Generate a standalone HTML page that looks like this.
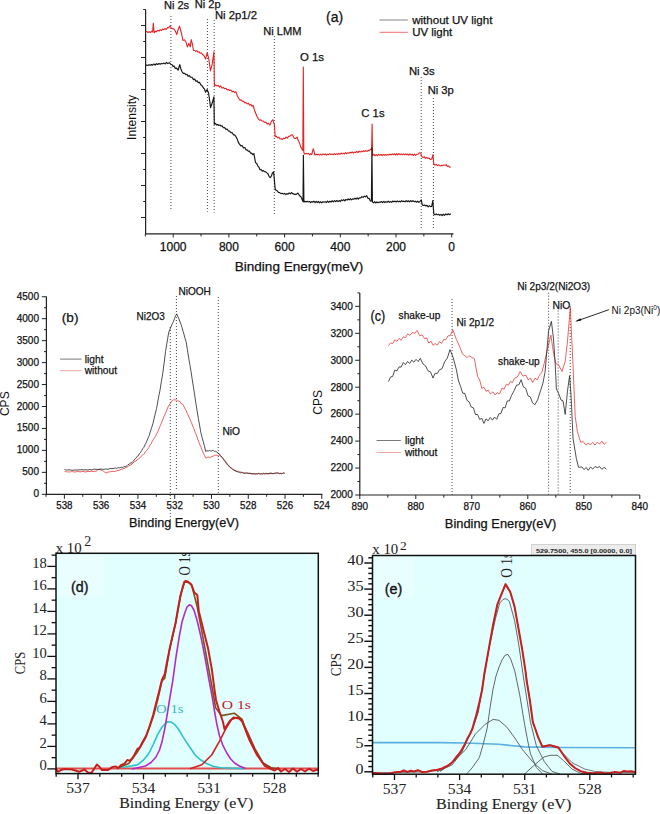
<!DOCTYPE html>
<html><head><meta charset="utf-8"><style>
html,body{margin:0;padding:0;background:#fff;}
body{width:660px;height:814px;overflow:hidden;}
svg{display:block;}
</style></head><body>
<svg width="660" height="814" viewBox="0 0 660 814">
<rect width="660" height="814" fill="#fff"/>
<line x1="145.6" y1="9.5" x2="145.6" y2="234" stroke="#222" stroke-width="1.2" />
<line x1="143.2" y1="9.5" x2="145.6" y2="9.5" stroke="#222" stroke-width="1.0" />
<line x1="141" y1="25.5" x2="145.6" y2="25.5" stroke="#222" stroke-width="1.0" />
<line x1="143.2" y1="41.5" x2="145.6" y2="41.5" stroke="#222" stroke-width="1.0" />
<line x1="141" y1="57.5" x2="145.6" y2="57.5" stroke="#222" stroke-width="1.0" />
<line x1="143.2" y1="73.5" x2="145.6" y2="73.5" stroke="#222" stroke-width="1.0" />
<line x1="141" y1="89.5" x2="145.6" y2="89.5" stroke="#222" stroke-width="1.0" />
<line x1="143.2" y1="105.5" x2="145.6" y2="105.5" stroke="#222" stroke-width="1.0" />
<line x1="141" y1="121.5" x2="145.6" y2="121.5" stroke="#222" stroke-width="1.0" />
<line x1="143.2" y1="137.5" x2="145.6" y2="137.5" stroke="#222" stroke-width="1.0" />
<line x1="141" y1="153.5" x2="145.6" y2="153.5" stroke="#222" stroke-width="1.0" />
<line x1="143.2" y1="169.5" x2="145.6" y2="169.5" stroke="#222" stroke-width="1.0" />
<line x1="141" y1="185.5" x2="145.6" y2="185.5" stroke="#222" stroke-width="1.0" />
<line x1="143.2" y1="201.5" x2="145.6" y2="201.5" stroke="#222" stroke-width="1.0" />
<line x1="141" y1="217.5" x2="145.6" y2="217.5" stroke="#222" stroke-width="1.0" />
<line x1="145" y1="233.9" x2="453.5" y2="233.9" stroke="#222" stroke-width="1.3" />
<line x1="451.7" y1="233.9" x2="451.7" y2="237.4" stroke="#222" stroke-width="1.0" />
<line x1="423.85" y1="233.9" x2="423.85" y2="236.4" stroke="#222" stroke-width="1.0" />
<line x1="396" y1="233.9" x2="396" y2="237.4" stroke="#222" stroke-width="1.0" />
<line x1="368.15" y1="233.9" x2="368.15" y2="236.4" stroke="#222" stroke-width="1.0" />
<line x1="340.3" y1="233.9" x2="340.3" y2="237.4" stroke="#222" stroke-width="1.0" />
<line x1="312.45" y1="233.9" x2="312.45" y2="236.4" stroke="#222" stroke-width="1.0" />
<line x1="284.6" y1="233.9" x2="284.6" y2="237.4" stroke="#222" stroke-width="1.0" />
<line x1="256.75" y1="233.9" x2="256.75" y2="236.4" stroke="#222" stroke-width="1.0" />
<line x1="228.9" y1="233.9" x2="228.9" y2="237.4" stroke="#222" stroke-width="1.0" />
<line x1="201.05" y1="233.9" x2="201.05" y2="236.4" stroke="#222" stroke-width="1.0" />
<line x1="173.2" y1="233.9" x2="173.2" y2="237.4" stroke="#222" stroke-width="1.0" />
<line x1="145.35" y1="233.9" x2="145.35" y2="236.4" stroke="#222" stroke-width="1.0" />
<text x="173.2" y="251" font-family="Liberation Sans" font-size="12" fill="#111" text-anchor="middle" stroke="#111" stroke-width="0.25" >1000</text>
<text x="228.9" y="251" font-family="Liberation Sans" font-size="12" fill="#111" text-anchor="middle" stroke="#111" stroke-width="0.25" >800</text>
<text x="284.6" y="251" font-family="Liberation Sans" font-size="12" fill="#111" text-anchor="middle" stroke="#111" stroke-width="0.25" >600</text>
<text x="340.3" y="251" font-family="Liberation Sans" font-size="12" fill="#111" text-anchor="middle" stroke="#111" stroke-width="0.25" >400</text>
<text x="396" y="251" font-family="Liberation Sans" font-size="12" fill="#111" text-anchor="middle" stroke="#111" stroke-width="0.25" >200</text>
<text x="451.7" y="251" font-family="Liberation Sans" font-size="12" fill="#111" text-anchor="middle" stroke="#111" stroke-width="0.25" >0</text>
<text x="234.8" y="270.6" font-family="Liberation Sans" font-size="13.5" fill="#111" text-anchor="start" stroke="#111" stroke-width="0.25" textLength="128.5" lengthAdjust="spacingAndGlyphs" >Binding Energy(meV)</text>
<text x="0" y="0" font-family="Liberation Sans" font-size="12" fill="#111" text-anchor="middle" textLength="45" lengthAdjust="spacingAndGlyphs" transform="translate(136.2 117.4) rotate(-90)">Intensity</text>
<line x1="170.9" y1="16" x2="170.9" y2="209" stroke="#444" stroke-width="1.0" stroke-dasharray="1 2"/>
<line x1="207.4" y1="19" x2="207.4" y2="211.7" stroke="#444" stroke-width="1.0" stroke-dasharray="1 2"/>
<line x1="214.2" y1="20" x2="214.2" y2="212.7" stroke="#444" stroke-width="1.0" stroke-dasharray="1 2"/>
<line x1="274.3" y1="36" x2="274.3" y2="215.6" stroke="#444" stroke-width="1.0" stroke-dasharray="1 2"/>
<line x1="421.2" y1="77" x2="421.2" y2="229" stroke="#444" stroke-width="1.0" stroke-dasharray="1 2"/>
<line x1="433.4" y1="98" x2="433.4" y2="229" stroke="#444" stroke-width="1.0" stroke-dasharray="1 2"/>
<text x="163.9" y="9.1" font-family="Liberation Sans" font-size="11.1" fill="#111" text-anchor="start" stroke="#111" stroke-width="0.25" >Ni 2s</text>
<text x="194.8" y="7.6" font-family="Liberation Sans" font-size="11.1" fill="#111" text-anchor="start" stroke="#111" stroke-width="0.25" >Ni 2p</text>
<text x="214.9" y="19.4" font-family="Liberation Sans" font-size="11.3" fill="#111" text-anchor="start" stroke="#111" stroke-width="0.25" >Ni 2p1/2</text>
<text x="263.2" y="34.5" font-family="Liberation Sans" font-size="11.1" fill="#111" text-anchor="start" stroke="#111" stroke-width="0.25" >Ni LMM</text>
<text x="300" y="60.8" font-family="Liberation Sans" font-size="11.4" fill="#111" text-anchor="start" stroke="#111" stroke-width="0.25" >O 1s</text>
<text x="361.3" y="117" font-family="Liberation Sans" font-size="11.3" fill="#111" text-anchor="start" stroke="#111" stroke-width="0.25" >C 1s</text>
<text x="408.9" y="74.5" font-family="Liberation Sans" font-size="11.3" fill="#111" text-anchor="start" stroke="#111" stroke-width="0.25" >Ni 3s</text>
<text x="427.7" y="93.6" font-family="Liberation Sans" font-size="11.2" fill="#111" text-anchor="start" stroke="#111" stroke-width="0.25" >Ni 3p</text>
<text x="326" y="22.2" font-family="Liberation Sans" font-size="14" fill="#111" text-anchor="start" stroke="#111" stroke-width="0.25" >(a)</text>
<line x1="379.5" y1="20" x2="407.8" y2="20" stroke="#999" stroke-width="1.2" />
<line x1="379.5" y1="32.3" x2="407.8" y2="32.3" stroke="#f07070" stroke-width="1.0" />
<text x="412.2" y="23.8" font-family="Liberation Sans" font-size="11.5" fill="#111" text-anchor="start" stroke="#111" stroke-width="0.25" textLength="80.2" lengthAdjust="spacingAndGlyphs" >without UV light</text>
<text x="412.2" y="36.2" font-family="Liberation Sans" font-size="11.5" fill="#111" text-anchor="start" stroke="#111" stroke-width="0.25" textLength="40.1" lengthAdjust="spacingAndGlyphs" >UV light</text>
<path d="M145.5 31.4 L146.75 31.44 L148 32.61 L149.15 31.63 L150.3 32.5 L151.45 31.31 L152.6 32 L153.3 23.13 L154.1 32.8 L155.32 31.41 L156.54 31.69 L157.76 30.22 L158.98 31.12 L160.2 29.6 L161.4 30.46 L162.6 29.13 L163.8 29.66 L165 28.53 L166.2 29.52 L167.47 27.51 L168.73 27.83 L170 25.81 L171.15 28.1 L172.3 28.75 L173.8 28.84 L175.3 31 L176.8 34.58 L178.15 29.39 L179.5 26.26 L181.4 32.98 L182.9 40.42 L184.4 39.83 L185.9 41.95 L187.4 46.89 L188.9 43.37 L190.2 46.86 L191.2 39.66 L192.35 43.88 L193.5 50.52 L194.62 50.43 L195.75 51.35 L196.88 50.65 L198 52.24 L199.15 51.81 L200.3 53.3 L201.45 53.04 L202.6 54.51 L204.1 55.97 L205.6 59.13 L207.1 52.77 L208.6 57.84 L210.5 70.9 L212.4 63.15 L213.9 51.89 L214.4 85.99 L215.68 84.91 L216.96 86.06 L218.24 85.39 L219.52 87.18 L220.8 85.96 L222.1 88.12 L223.37 87.43 L224.63 88.8 L225.9 88.26 L227.17 89.93 L228.43 89.51 L229.7 90.5 L230.92 89.95 L232.14 91.81 L233.36 91.16 L234.58 92.41 L235.8 91.68 L237.3 95.76 L238.8 98.55 L240 100.31 L241.2 99.7 L242.4 101.37 L243.6 101.39 L244.8 102.89 L246 102.52 L247.2 103.96 L248.4 103.3 L249.6 105.26 L250.8 104.43 L252 106.16 L253.2 105.44 L254.35 109.76 L255.5 112.76 L257 116.53 L258.5 119.11 L259.7 120.28 L260.9 119.77 L262.1 121.04 L263.3 121.05 L264.5 122.42 L265.82 122.09 L267.15 123.97 L268.48 123.22 L269.8 125.1 L271.35 121.45 L272.9 119.59 L274.4 124.93 L275.2 136.64 L276.4 136.18 L277.6 137.86 L278.8 137.14 L280 138.98 L281.2 138.66 L282.42 139.42 L283.64 138.19 L284.86 138.55 L286.08 137.11 L287.3 138.09 L288.62 136.31 L289.95 136.22 L291.28 134.85 L292.6 135.03 L294.1 138.13 L295.6 138.5 L297.1 137.04 L298.33 140.83 L299.57 143.11 L300.8 147.16 L302.8 150.41 L303.3 67.09 L303.8 152.69 L304.93 154.06 L306.06 153.38 L307.19 153.88 L308.31 153.22 L309.44 154.72 L310.57 153.75 L311.7 154.65 L313.3 148.66 L315 155.06 L316.14 154.28 L317.28 155.01 L318.43 154.22 L319.57 155.14 L320.71 154.22 L321.85 154.94 L322.99 153.86 L324.14 154.67 L325.28 153.94 L326.42 155.07 L327.56 154.05 L328.71 154.69 L329.85 153.68 L330.99 154.64 L332.13 154.03 L333.27 154.72 L334.42 153.65 L335.56 154.45 L336.7 153.83 L337.81 154.46 L338.91 153.28 L340.02 154.3 L341.13 153.04 L342.23 153.9 L343.34 153.14 L344.45 153.98 L345.55 152.57 L346.66 153.63 L347.77 152.76 L348.87 153.19 L349.98 152.34 L351.09 153.01 L352.19 151.94 L353.3 153.2 L354.45 152.09 L355.61 152.58 L356.76 151.43 L357.92 152.55 L359.07 151.17 L360.22 152.1 L361.38 151.34 L362.53 151.8 L363.68 150.66 L364.84 151.53 L365.99 150.68 L367.15 151.36 L368.3 150.37 L369.4 150.79 L370.5 149.18 L371.6 149.76 L372.1 124.04 L372.6 155.76 L373.79 154.28 L374.98 155.79 L376.17 154.56 L377.36 155.77 L378.54 154.25 L379.73 155.3 L380.92 154.36 L382.11 155.7 L383.3 154.42 L384.41 155.44 L385.53 154.55 L386.64 155.22 L387.75 154.48 L388.87 154.94 L389.98 154.14 L391.09 154.97 L392.21 153.89 L393.32 154.71 L394.43 153.73 L395.55 155.02 L396.66 153.61 L397.77 155.04 L398.89 153.52 L400 154.73 L401.11 154.06 L402.23 154.9 L403.34 154.03 L404.45 154.69 L405.57 153.78 L406.68 154.9 L407.79 154.01 L408.91 155.23 L410.02 153.95 L411.13 154.91 L412.25 154.25 L413.36 155.31 L414.47 154.17 L415.59 155.33 L416.7 154.31 L418.07 154.25 L419.43 152.73 L420.8 153.18 L421.7 156.43 L422.95 157.69 L424.2 156.6 L425.45 158.35 L426.7 157.31 L427.95 158.46 L429.2 158.04 L430.45 159.61 L431.7 159.01 L433 154.53 L433.7 163.87 L434.96 165.02 L436.22 164.41 L437.48 165.62 L438.74 164.82 L440 165.96 L441.25 165.4 L442.5 165.64 L443.75 164.96 L445 165.2 L446.16 164.62 L447.32 166.51 L448.48 165.98 L449.64 167.08 L450.8 167" fill="none" stroke="#e42424" stroke-width="1.1" stroke-linejoin="round" />
<path d="M145.5 65.5 L146.68 65.06 L147.87 65.46 L149.05 64.69 L150.23 65.23 L151.42 64.63 L152.6 65.12 L153.87 63.82 L155.13 65.11 L156.4 63.65 L157.67 64.47 L158.93 63.53 L160.2 64.24 L161.45 63.46 L162.7 63.79 L163.95 63.1 L165.2 63.99 L166.45 62.38 L167.7 63.58 L169.25 62.73 L170.8 64.18 L171.93 64.49 L173.05 66.36 L174.18 66.12 L175.3 68.41 L176.65 68.13 L178 70.22 L179.8 64.65 L180.95 69.34 L182.1 71.82 L183.37 73.31 L184.63 73.3 L185.9 74.72 L187.05 74.32 L188.2 76.36 L189.35 75.71 L190.5 77.15 L192 77.21 L193.5 79.63 L194.7 79.14 L195.9 81.32 L197.1 80.89 L198.3 82.56 L199.5 82.36 L200.77 84.84 L202.03 85.64 L203.3 87.76 L204.45 89.02 L205.6 92.19 L207.1 89.51 L208.6 93.26 L210.6 107.56 L212.4 102.3 L213.9 96.84 L214.3 124.28 L215.41 123.43 L216.53 124.84 L217.64 124.46 L218.76 125.5 L219.87 124.98 L220.99 126.21 L222.1 125.81 L223.37 127.72 L224.63 127.6 L225.9 129.37 L227.17 128.99 L228.43 130.84 L229.7 131.3 L230.92 132.73 L232.14 132.69 L233.36 134.81 L234.58 134.87 L235.8 136.47 L237.03 138.59 L238.27 142.09 L239.5 144.21 L240.82 145.96 L242.15 145.57 L243.48 148.02 L244.8 147.57 L245.95 149.86 L247.1 149.8 L248.25 151.19 L249.4 150.96 L250.55 153.27 L251.7 153.08 L252.8 154.61 L253.9 153.64 L255.5 162.48 L256.62 163.35 L257.75 165.88 L258.88 167.06 L260 169.65 L261.13 169.53 L262.27 171.24 L263.4 170.63 L264.53 171.7 L265.67 171.88 L266.8 172.87 L267.97 173.74 L269.13 176.59 L270.3 177.65 L271.4 176.02 L272.5 172.81 L273.6 171.83 L275.2 189.11 L276.32 190.55 L277.45 191.1 L278.57 192.52 L279.7 192.61 L280.92 193.6 L282.14 193.29 L283.36 194.09 L284.58 193.44 L285.8 194.7 L286.93 193.55 L288.07 194.17 L289.2 192.89 L290.33 193.86 L291.47 192.52 L292.6 193.67 L294.8 194.39 L296.35 194.37 L297.9 193.02 L299.4 195.53 L300.9 196.68 L303 201.53 L303.4 155.31 L303.9 201.98 L305.01 201.37 L306.13 201.93 L307.24 201.34 L308.35 202.01 L309.47 201.46 L310.58 202.54 L311.69 201.62 L312.81 202.12 L313.92 201.23 L315.03 202.56 L316.15 201.29 L317.26 202.56 L318.37 201.46 L319.49 202.83 L320.6 201.63 L321.76 202.85 L322.92 201.65 L324.08 202.25 L325.24 201.65 L326.39 202.58 L327.55 201.03 L328.71 202.43 L329.87 201.22 L331.03 202.09 L332.19 200.75 L333.35 201.9 L334.51 200.56 L335.66 201.65 L336.82 200.49 L337.98 201.58 L339.14 200.56 L340.3 201.55 L341.43 199.87 L342.55 200.7 L343.68 199.55 L344.8 200.95 L345.93 199.43 L347.05 200.05 L348.18 198.97 L349.3 199.79 L350.43 198.61 L351.55 199.82 L352.68 198.88 L353.8 199.19 L354.93 198.2 L356.05 199.14 L357.18 197.82 L358.3 199.05 L359.5 197.71 L360.7 197.89 L361.9 196.69 L363.1 197.33 L364.3 196.15 L365.5 196.82 L366.7 195.62 L367.88 198.31 L369.05 198.28 L370.22 200.86 L371.4 200.98 L371.9 147.79 L372.4 201.91 L373.54 202.82 L374.67 201.68 L375.81 203.01 L376.94 201.85 L378.08 202.76 L379.21 202.04 L380.35 202.35 L381.48 201.58 L382.62 202.55 L383.75 201.32 L384.89 202.53 L386.02 201.69 L387.16 202.28 L388.29 201.19 L389.43 202.29 L390.56 201.58 L391.7 202.4 L392.81 200.98 L393.91 201.85 L395.02 201.09 L396.13 201.97 L397.23 200.87 L398.34 201.86 L399.45 201.16 L400.55 201.9 L401.66 200.62 L402.77 201.59 L403.87 201.1 L404.98 201.86 L406.09 200.54 L407.19 201.72 L408.3 200.76 L409.47 201.96 L410.64 200.64 L411.81 201.55 L412.98 200.68 L414.15 201.74 L415.32 201.15 L416.49 202.25 L417.66 201.17 L418.83 202.32 L420 201.43 L421.3 199.92 L422.2 204.73 L423.39 205.47 L424.57 204.95 L425.76 206.01 L426.95 205.34 L428.14 206.8 L429.32 205.66 L430.51 206.65 L431.7 206.34 L432.8 200.51 L433.8 213.73 L434.99 214.92 L436.18 213.93 L437.36 214.71 L438.55 214.28 L439.74 215.4 L440.93 214.41 L442.11 215.55 L443.3 214.21 L444.55 215.34 L445.8 213.97 L447.05 214.9 L448.3 213.77 L449.55 214.66 L450.8 213.7" fill="none" stroke="#151515" stroke-width="1.15" stroke-linejoin="round" />
<line x1="46.4" y1="296.45" x2="46.4" y2="494.8" stroke="#222" stroke-width="1.2" />
<line x1="41.8" y1="494.3" x2="46.4" y2="494.3" stroke="#222" stroke-width="1.0" />
<line x1="44" y1="483.32" x2="46.4" y2="483.32" stroke="#222" stroke-width="1.0" />
<line x1="41.8" y1="472.35" x2="46.4" y2="472.35" stroke="#222" stroke-width="1.0" />
<line x1="44" y1="461.38" x2="46.4" y2="461.38" stroke="#222" stroke-width="1.0" />
<line x1="41.8" y1="450.4" x2="46.4" y2="450.4" stroke="#222" stroke-width="1.0" />
<line x1="44" y1="439.43" x2="46.4" y2="439.43" stroke="#222" stroke-width="1.0" />
<line x1="41.8" y1="428.45" x2="46.4" y2="428.45" stroke="#222" stroke-width="1.0" />
<line x1="44" y1="417.48" x2="46.4" y2="417.48" stroke="#222" stroke-width="1.0" />
<line x1="41.8" y1="406.5" x2="46.4" y2="406.5" stroke="#222" stroke-width="1.0" />
<line x1="44" y1="395.53" x2="46.4" y2="395.53" stroke="#222" stroke-width="1.0" />
<line x1="41.8" y1="384.55" x2="46.4" y2="384.55" stroke="#222" stroke-width="1.0" />
<line x1="44" y1="373.58" x2="46.4" y2="373.58" stroke="#222" stroke-width="1.0" />
<line x1="41.8" y1="362.6" x2="46.4" y2="362.6" stroke="#222" stroke-width="1.0" />
<line x1="44" y1="351.62" x2="46.4" y2="351.62" stroke="#222" stroke-width="1.0" />
<line x1="41.8" y1="340.65" x2="46.4" y2="340.65" stroke="#222" stroke-width="1.0" />
<line x1="44" y1="329.68" x2="46.4" y2="329.68" stroke="#222" stroke-width="1.0" />
<line x1="41.8" y1="318.7" x2="46.4" y2="318.7" stroke="#222" stroke-width="1.0" />
<line x1="44" y1="307.73" x2="46.4" y2="307.73" stroke="#222" stroke-width="1.0" />
<line x1="41.8" y1="296.75" x2="46.4" y2="296.75" stroke="#222" stroke-width="1.0" />
<text x="39" y="497.3" font-family="Liberation Sans" font-size="10.3" fill="#111" text-anchor="end" stroke="#111" stroke-width="0.25" textLength="5.6" lengthAdjust="spacingAndGlyphs" >0</text>
<text x="39" y="475.35" font-family="Liberation Sans" font-size="10.3" fill="#111" text-anchor="end" stroke="#111" stroke-width="0.25" textLength="16.7" lengthAdjust="spacingAndGlyphs" >500</text>
<text x="39" y="453.4" font-family="Liberation Sans" font-size="10.3" fill="#111" text-anchor="end" stroke="#111" stroke-width="0.25" textLength="22.3" lengthAdjust="spacingAndGlyphs" >1000</text>
<text x="39" y="431.45" font-family="Liberation Sans" font-size="10.3" fill="#111" text-anchor="end" stroke="#111" stroke-width="0.25" textLength="22.3" lengthAdjust="spacingAndGlyphs" >1500</text>
<text x="39" y="409.5" font-family="Liberation Sans" font-size="10.3" fill="#111" text-anchor="end" stroke="#111" stroke-width="0.25" textLength="22.3" lengthAdjust="spacingAndGlyphs" >2000</text>
<text x="39" y="387.55" font-family="Liberation Sans" font-size="10.3" fill="#111" text-anchor="end" stroke="#111" stroke-width="0.25" textLength="22.3" lengthAdjust="spacingAndGlyphs" >2500</text>
<text x="39" y="365.6" font-family="Liberation Sans" font-size="10.3" fill="#111" text-anchor="end" stroke="#111" stroke-width="0.25" textLength="22.3" lengthAdjust="spacingAndGlyphs" >3000</text>
<text x="39" y="343.65" font-family="Liberation Sans" font-size="10.3" fill="#111" text-anchor="end" stroke="#111" stroke-width="0.25" textLength="22.3" lengthAdjust="spacingAndGlyphs" >3500</text>
<text x="39" y="321.7" font-family="Liberation Sans" font-size="10.3" fill="#111" text-anchor="end" stroke="#111" stroke-width="0.25" textLength="22.3" lengthAdjust="spacingAndGlyphs" >4000</text>
<text x="39" y="299.75" font-family="Liberation Sans" font-size="10.3" fill="#111" text-anchor="end" stroke="#111" stroke-width="0.25" textLength="22.3" lengthAdjust="spacingAndGlyphs" >4500</text>
<line x1="45.9" y1="494.3" x2="322.3" y2="494.3" stroke="#222" stroke-width="1.2" />
<line x1="321.79" y1="494.3" x2="321.79" y2="498.8" stroke="#222" stroke-width="1.0" />
<line x1="303.4" y1="494.3" x2="303.4" y2="496.8" stroke="#222" stroke-width="1.0" />
<line x1="285.02" y1="494.3" x2="285.02" y2="498.8" stroke="#222" stroke-width="1.0" />
<line x1="266.63" y1="494.3" x2="266.63" y2="496.8" stroke="#222" stroke-width="1.0" />
<line x1="248.25" y1="494.3" x2="248.25" y2="498.8" stroke="#222" stroke-width="1.0" />
<line x1="229.86" y1="494.3" x2="229.86" y2="496.8" stroke="#222" stroke-width="1.0" />
<line x1="211.47" y1="494.3" x2="211.47" y2="498.8" stroke="#222" stroke-width="1.0" />
<line x1="193.09" y1="494.3" x2="193.09" y2="496.8" stroke="#222" stroke-width="1.0" />
<line x1="174.7" y1="494.3" x2="174.7" y2="498.8" stroke="#222" stroke-width="1.0" />
<line x1="156.32" y1="494.3" x2="156.32" y2="496.8" stroke="#222" stroke-width="1.0" />
<line x1="137.93" y1="494.3" x2="137.93" y2="498.8" stroke="#222" stroke-width="1.0" />
<line x1="119.54" y1="494.3" x2="119.54" y2="496.8" stroke="#222" stroke-width="1.0" />
<line x1="101.16" y1="494.3" x2="101.16" y2="498.8" stroke="#222" stroke-width="1.0" />
<line x1="82.77" y1="494.3" x2="82.77" y2="496.8" stroke="#222" stroke-width="1.0" />
<line x1="64.39" y1="494.3" x2="64.39" y2="498.8" stroke="#222" stroke-width="1.0" />
<line x1="46" y1="494.3" x2="46" y2="496.8" stroke="#222" stroke-width="1.0" />
<text x="321.79" y="508.5" font-family="Liberation Sans" font-size="10.3" fill="#111" text-anchor="middle" stroke="#111" stroke-width="0.25" textLength="16.3" lengthAdjust="spacingAndGlyphs" >524</text>
<text x="285.02" y="508.5" font-family="Liberation Sans" font-size="10.3" fill="#111" text-anchor="middle" stroke="#111" stroke-width="0.25" textLength="16.3" lengthAdjust="spacingAndGlyphs" >526</text>
<text x="248.25" y="508.5" font-family="Liberation Sans" font-size="10.3" fill="#111" text-anchor="middle" stroke="#111" stroke-width="0.25" textLength="16.3" lengthAdjust="spacingAndGlyphs" >528</text>
<text x="211.47" y="508.5" font-family="Liberation Sans" font-size="10.3" fill="#111" text-anchor="middle" stroke="#111" stroke-width="0.25" textLength="16.3" lengthAdjust="spacingAndGlyphs" >530</text>
<text x="174.7" y="508.5" font-family="Liberation Sans" font-size="10.3" fill="#111" text-anchor="middle" stroke="#111" stroke-width="0.25" textLength="16.3" lengthAdjust="spacingAndGlyphs" >532</text>
<text x="137.93" y="508.5" font-family="Liberation Sans" font-size="10.3" fill="#111" text-anchor="middle" stroke="#111" stroke-width="0.25" textLength="16.3" lengthAdjust="spacingAndGlyphs" >534</text>
<text x="101.16" y="508.5" font-family="Liberation Sans" font-size="10.3" fill="#111" text-anchor="middle" stroke="#111" stroke-width="0.25" textLength="16.3" lengthAdjust="spacingAndGlyphs" >536</text>
<text x="64.39" y="508.5" font-family="Liberation Sans" font-size="10.3" fill="#111" text-anchor="middle" stroke="#111" stroke-width="0.25" textLength="16.3" lengthAdjust="spacingAndGlyphs" >538</text>
<text x="129" y="526.8" font-family="Liberation Sans" font-size="12.7" fill="#111" text-anchor="start" stroke="#111" stroke-width="0.25" textLength="110" lengthAdjust="spacingAndGlyphs" >Binding Energy(eV)</text>
<text x="0" y="0" font-family="Liberation Sans" font-size="12" fill="#111" text-anchor="middle" transform="translate(9.3 403.7) rotate(-90)">CPS</text>
<text x="61.8" y="322.1" font-family="Liberation Sans" font-size="13.6" fill="#111" text-anchor="start" stroke="#111" stroke-width="0.25" >(b)</text>
<text x="178.4" y="295.4" font-family="Liberation Sans" font-size="10.5" fill="#111" text-anchor="start" stroke="#111" stroke-width="0.25" textLength="32.4" lengthAdjust="spacingAndGlyphs" >NiOOH</text>
<text x="136.5" y="320.4" font-family="Liberation Sans" font-size="10.5" fill="#111" text-anchor="start" stroke="#111" stroke-width="0.25" textLength="28.2" lengthAdjust="spacingAndGlyphs" >Ni2O3</text>
<text x="222.4" y="434.6" font-family="Liberation Sans" font-size="10.5" fill="#111" text-anchor="start" stroke="#111" stroke-width="0.25" textLength="17.6" lengthAdjust="spacingAndGlyphs" >NiO</text>
<line x1="60.1" y1="359.1" x2="81.5" y2="359.1" stroke="#555" stroke-width="0.8" />
<line x1="60.1" y1="370.7" x2="81.5" y2="370.7" stroke="#f39a9a" stroke-width="0.9" />
<text x="84.7" y="362.8" font-family="Liberation Sans" font-size="10.5" fill="#111" text-anchor="start" stroke="#111" stroke-width="0.25" textLength="18.8" lengthAdjust="spacingAndGlyphs" >light</text>
<text x="84.7" y="374.4" font-family="Liberation Sans" font-size="10.5" fill="#111" text-anchor="start" stroke="#111" stroke-width="0.25" textLength="32.3" lengthAdjust="spacingAndGlyphs" >without</text>
<line x1="176.4" y1="296" x2="176.4" y2="490" stroke="#333" stroke-width="0.9" stroke-dasharray="1 2"/>
<line x1="170.3" y1="327" x2="170.3" y2="522" stroke="#333" stroke-width="0.9" stroke-dasharray="1 2"/>
<line x1="218.3" y1="297" x2="218.3" y2="494" stroke="#333" stroke-width="0.9" stroke-dasharray="1 2"/>
<path d="M64.5 471.5 L65.53 471.63 L66.57 471.76 L67.6 471.83 L68.63 471.98 L69.67 471.82 L70.7 472 L71.73 471.22 L72.77 471.63 L73.8 472.08 L74.83 471.83 L75.87 472.08 L76.9 471.39 L77.93 471.73 L78.97 471.55 L80 471.84 L81 471.85 L82 471.32 L83 471.49 L84 471.52 L85 472.07 L86 471.92 L87 471.35 L88 471.91 L89 471.29 L90 471.71 L91 471.24 L92 471.11 L93 471.87 L94 471.26 L95 471.24 L96.05 471.31 L97.1 470.59 L98.15 469.44 L99.2 469.42 L100.32 469.62 L101.43 470.33 L102.55 470.48 L103.67 471.73 L104.78 472.09 L105.9 472.92 L106.91 472.74 L107.92 472.1 L108.93 472.04 L109.94 471.75 L110.96 471.63 L111.97 471.44 L112.98 471.54 L113.99 471.7 L115 471.05 L116 471.33 L117 470.69 L118 470.33 L119 470.45 L120 469.82 L121 469.33 L122 469.15 L123 469.02 L124 468.1 L125 468.39 L126 467 L127 467.11 L128 466.66 L129 465.38 L130 465.53 L131 464.62 L132 464.27 L133.03 462.88 L134.05 462.04 L135.07 461.29 L136.1 461.11 L137.12 459.55 L138.15 459.18 L139.18 458.46 L140.2 457.6 L141.23 456.18 L142.25 455.32 L143.28 454.6 L144.3 453.95 L145.44 451.71 L146.58 450.64 L147.72 449.05 L148.86 447.46 L150 445.08 L151.1 443.98 L152.2 441.3 L153.3 439.61 L154.4 437.93 L155.5 436.29 L156.6 433.86 L157.68 431.98 L158.76 429.24 L159.84 426.63 L160.92 424.24 L162 421.71 L163.1 418.77 L164.2 415.98 L165.3 413.62 L166.4 411.05 L167.6 407.93 L168.8 405.46 L170 403.94 L171.25 401.93 L172.5 400.22 L173.73 399.83 L174.97 399.92 L176.2 399.89 L177.47 400.36 L178.73 401.13 L180 401.6 L181.2 403.61 L182.4 404.05 L183.6 405.69 L184.82 408.48 L186.05 410.32 L187.28 413.33 L188.5 416 L189.56 418.35 L190.61 421.12 L191.67 423.13 L192.73 426.06 L193.79 428.43 L194.84 431.68 L195.9 433.82 L196.92 436.62 L197.93 439.78 L198.95 442.32 L199.97 445.1 L200.98 447.29 L202 449.99 L203.23 452.91 L204.47 455.38 L205.7 457.91 L206.76 457.73 L207.81 457.21 L208.87 457.13 L209.93 457.4 L210.99 457.09 L212.04 456.5 L213.1 456.1 L214.22 455.73 L215.34 455.29 L216.46 455.24 L217.58 455.47 L218.7 455.33 L219.7 455.38 L220.7 456.26 L221.7 456.75 L222.93 458.18 L224.17 459.65 L225.4 461.23 L226.6 462.54 L227.8 464.52 L229 465.8 L230.27 467.05 L231.53 468.38 L232.8 469.37 L233.9 469.51 L235 470.6 L236.1 470.83 L237.2 471.27 L238.3 471.26 L239.4 472.24 L240.45 472.08 L241.51 472.57 L242.56 472.49 L243.61 472.91 L244.67 472.87 L245.72 473.11 L246.77 472.81 L247.83 473.18 L248.88 473.37 L249.93 473.56 L250.99 473.24 L252.04 473.79 L253.09 473.92 L254.15 473.86 L255.2 474.23 L256.26 474.2 L257.31 473.79 L258.37 473.78 L259.43 473.44 L260.49 474.03 L261.54 474.11 L262.6 473.68 L263.66 473.86 L264.71 473.87 L265.77 473.86 L266.83 473.35 L267.89 473.88 L268.94 473.69 L270 473.75 L271.05 473.5 L272.1 473.65 L273.15 473.76 L274.2 473.61 L275.25 473.66 L276.3 473 L277.35 473.09 L278.4 473.32 L279.45 473.48 L280.5 473.06 L281.55 473.45 L282.6 473.37 L283.65 472.82 L284.7 473.2" fill="none" stroke="#e83a3a" stroke-width="0.8" stroke-linejoin="round" />
<path d="M64.5 469.5 L65.6 469.9 L66.7 470.07 L67.8 469.91 L68.9 469.85 L70 469.75 L71 470.31 L72 470.09 L73 470.31 L74 469.93 L75 470.24 L76 469.76 L77 470.19 L78 470.09 L79 469.76 L80 469.83 L81 469.95 L82 469.5 L83 469.82 L84 470.03 L85 469.54 L86 470.01 L87 469.9 L88 470.03 L89 469.56 L90 469.33 L91 469.92 L92 469.87 L93 469.5 L94 469.13 L95 469.18 L96 469.52 L97 469.16 L98 469.71 L99 469.33 L100 468.93 L101 469.3 L102 468.99 L103 469.47 L104 469.41 L105 469.01 L106 469.09 L107 469.1 L108 469.15 L109 469.27 L110 468.38 L111.03 468.57 L112.06 468.68 L113.09 468.3 L114.12 468.45 L115.15 467.89 L116.18 468.5 L117.22 468.07 L118.25 467.59 L119.28 467.98 L120.31 467.55 L121.34 467.34 L122.37 467.49 L123.4 467.07 L124.55 466.54 L125.7 466.53 L126.85 465.78 L128 464.56 L129 464.58 L130 463.22 L131 462.82 L132 462.66 L133 461.38 L134 460.08 L135 459.11 L136 458.1 L137.15 456.41 L138.3 455.75 L139.45 453.45 L140.6 452.33 L141.7 450.77 L142.8 448.61 L143.9 447.28 L145 444.77 L146.05 442.98 L147.1 440.45 L148.15 437.8 L149.2 435.55 L150.47 431.09 L151.73 427.36 L153 423.27 L154.2 418.08 L155.4 413.11 L156.6 408.39 L157.73 402.05 L158.87 395.69 L160 390.22 L161.35 381.69 L162.7 373.79 L164.1 363.16 L165.5 351.7 L166.6 344.9 L167.7 338.33 L168.8 332.08 L170.03 329.01 L171.27 326.05 L172.5 323.36 L173.55 321.31 L174.6 318.23 L175.65 315.89 L176.7 313.84 L177.8 316.38 L178.9 318.84 L180 321.8 L181.1 324.58 L182.1 327.72 L183.1 331.37 L184.1 334.75 L185.1 338.63 L186.1 341.64 L187.32 349.32 L188.55 356.97 L189.78 364.31 L191 371.19 L192.22 379.39 L193.45 387.14 L194.68 395.21 L195.9 403.29 L197.12 410.94 L198.35 418.44 L199.58 425.24 L200.8 432.36 L202.03 437.35 L203.25 441.6 L204.47 446.18 L205.7 451.45 L206.92 450.68 L208.15 451.05 L209.38 450.55 L210.6 450.89 L211.6 450.96 L212.6 450.39 L213.6 450.64 L214.6 451.46 L215.6 451.3 L216.83 451.96 L218.07 453.12 L219.3 453.98 L220.65 455.59 L222 457.47 L223.13 458.74 L224.27 460.58 L225.4 461.98 L226.6 463.81 L227.8 465.2 L229 466.18 L230.27 467.68 L231.53 468.27 L232.8 469.34 L233.9 470.28 L235 470.57 L236.1 471.41 L237.2 471.62 L238.3 472.13 L239.4 472.06 L240.45 472.79 L241.51 472.21 L242.56 472.79 L243.61 473.14 L244.67 473.23 L245.72 473.31 L246.77 473.01 L247.83 473.32 L248.88 473.5 L249.93 473.01 L250.99 473.83 L252.04 473.89 L253.09 473.56 L254.15 473.96 L255.2 473.75 L256.26 473.57 L257.31 473.93 L258.37 473.32 L259.43 473.96 L260.49 474.09 L261.54 473.44 L262.6 474 L263.66 473.2 L264.71 473.87 L265.77 473.32 L266.83 473.91 L267.89 473.39 L268.94 473.81 L270 472.98 L271.05 473.01 L272.1 473.66 L273.15 473.48 L274.2 473.37 L275.25 472.91 L276.3 473.02 L277.35 473.18 L278.4 472.88 L279.45 473.72 L280.5 473.5 L281.55 473.65 L282.6 473.41 L283.65 473.07 L284.7 473.2" fill="none" stroke="#222" stroke-width="0.8" stroke-linejoin="round" />
<line x1="359.8" y1="292.88" x2="359.8" y2="495.5" stroke="#222" stroke-width="1.2" />
<line x1="355.2" y1="495" x2="359.8" y2="495" stroke="#222" stroke-width="1.0" />
<line x1="357.4" y1="481.52" x2="359.8" y2="481.52" stroke="#222" stroke-width="1.0" />
<line x1="355.2" y1="468.05" x2="359.8" y2="468.05" stroke="#222" stroke-width="1.0" />
<line x1="357.4" y1="454.57" x2="359.8" y2="454.57" stroke="#222" stroke-width="1.0" />
<line x1="355.2" y1="441.1" x2="359.8" y2="441.1" stroke="#222" stroke-width="1.0" />
<line x1="357.4" y1="427.62" x2="359.8" y2="427.62" stroke="#222" stroke-width="1.0" />
<line x1="355.2" y1="414.15" x2="359.8" y2="414.15" stroke="#222" stroke-width="1.0" />
<line x1="357.4" y1="400.68" x2="359.8" y2="400.68" stroke="#222" stroke-width="1.0" />
<line x1="355.2" y1="387.2" x2="359.8" y2="387.2" stroke="#222" stroke-width="1.0" />
<line x1="357.4" y1="373.73" x2="359.8" y2="373.73" stroke="#222" stroke-width="1.0" />
<line x1="355.2" y1="360.25" x2="359.8" y2="360.25" stroke="#222" stroke-width="1.0" />
<line x1="357.4" y1="346.77" x2="359.8" y2="346.77" stroke="#222" stroke-width="1.0" />
<line x1="355.2" y1="333.3" x2="359.8" y2="333.3" stroke="#222" stroke-width="1.0" />
<line x1="357.4" y1="319.83" x2="359.8" y2="319.83" stroke="#222" stroke-width="1.0" />
<line x1="355.2" y1="306.35" x2="359.8" y2="306.35" stroke="#222" stroke-width="1.0" />
<line x1="357.4" y1="292.88" x2="359.8" y2="292.88" stroke="#222" stroke-width="1.0" />
<text x="352.8" y="498.3" font-family="Liberation Sans" font-size="10.2" fill="#111" text-anchor="end" stroke="#111" stroke-width="0.25" textLength="22.4" lengthAdjust="spacingAndGlyphs" >2000</text>
<text x="352.8" y="471.35" font-family="Liberation Sans" font-size="10.2" fill="#111" text-anchor="end" stroke="#111" stroke-width="0.25" textLength="22.4" lengthAdjust="spacingAndGlyphs" >2200</text>
<text x="352.8" y="444.4" font-family="Liberation Sans" font-size="10.2" fill="#111" text-anchor="end" stroke="#111" stroke-width="0.25" textLength="22.4" lengthAdjust="spacingAndGlyphs" >2400</text>
<text x="352.8" y="417.45" font-family="Liberation Sans" font-size="10.2" fill="#111" text-anchor="end" stroke="#111" stroke-width="0.25" textLength="22.4" lengthAdjust="spacingAndGlyphs" >2600</text>
<text x="352.8" y="390.5" font-family="Liberation Sans" font-size="10.2" fill="#111" text-anchor="end" stroke="#111" stroke-width="0.25" textLength="22.4" lengthAdjust="spacingAndGlyphs" >2800</text>
<text x="352.8" y="363.55" font-family="Liberation Sans" font-size="10.2" fill="#111" text-anchor="end" stroke="#111" stroke-width="0.25" textLength="22.4" lengthAdjust="spacingAndGlyphs" >3000</text>
<text x="352.8" y="336.6" font-family="Liberation Sans" font-size="10.2" fill="#111" text-anchor="end" stroke="#111" stroke-width="0.25" textLength="22.4" lengthAdjust="spacingAndGlyphs" >3200</text>
<text x="352.8" y="309.65" font-family="Liberation Sans" font-size="10.2" fill="#111" text-anchor="end" stroke="#111" stroke-width="0.25" textLength="22.4" lengthAdjust="spacingAndGlyphs" >3400</text>
<line x1="359.3" y1="495" x2="639.8" y2="495" stroke="#222" stroke-width="1.2" />
<line x1="639.8" y1="495" x2="639.8" y2="499" stroke="#222" stroke-width="1.0" />
<line x1="611.8" y1="495" x2="611.8" y2="497.6" stroke="#222" stroke-width="1.0" />
<line x1="583.8" y1="495" x2="583.8" y2="499" stroke="#222" stroke-width="1.0" />
<line x1="555.8" y1="495" x2="555.8" y2="497.6" stroke="#222" stroke-width="1.0" />
<line x1="527.8" y1="495" x2="527.8" y2="499" stroke="#222" stroke-width="1.0" />
<line x1="499.8" y1="495" x2="499.8" y2="497.6" stroke="#222" stroke-width="1.0" />
<line x1="471.8" y1="495" x2="471.8" y2="499" stroke="#222" stroke-width="1.0" />
<line x1="443.8" y1="495" x2="443.8" y2="497.6" stroke="#222" stroke-width="1.0" />
<line x1="415.8" y1="495" x2="415.8" y2="499" stroke="#222" stroke-width="1.0" />
<line x1="387.8" y1="495" x2="387.8" y2="497.6" stroke="#222" stroke-width="1.0" />
<line x1="359.8" y1="495" x2="359.8" y2="499" stroke="#222" stroke-width="1.0" />
<text x="639.8" y="510" font-family="Liberation Sans" font-size="10.2" fill="#111" text-anchor="middle" stroke="#111" stroke-width="0.25" textLength="16.6" lengthAdjust="spacingAndGlyphs" >840</text>
<text x="583.8" y="510" font-family="Liberation Sans" font-size="10.2" fill="#111" text-anchor="middle" stroke="#111" stroke-width="0.25" textLength="16.6" lengthAdjust="spacingAndGlyphs" >850</text>
<text x="527.8" y="510" font-family="Liberation Sans" font-size="10.2" fill="#111" text-anchor="middle" stroke="#111" stroke-width="0.25" textLength="16.6" lengthAdjust="spacingAndGlyphs" >860</text>
<text x="471.8" y="510" font-family="Liberation Sans" font-size="10.2" fill="#111" text-anchor="middle" stroke="#111" stroke-width="0.25" textLength="16.6" lengthAdjust="spacingAndGlyphs" >870</text>
<text x="415.8" y="510" font-family="Liberation Sans" font-size="10.2" fill="#111" text-anchor="middle" stroke="#111" stroke-width="0.25" textLength="16.6" lengthAdjust="spacingAndGlyphs" >880</text>
<text x="359.8" y="510" font-family="Liberation Sans" font-size="10.2" fill="#111" text-anchor="middle" stroke="#111" stroke-width="0.25" textLength="16.6" lengthAdjust="spacingAndGlyphs" >890</text>
<text x="444.8" y="528.1" font-family="Liberation Sans" font-size="12.9" fill="#111" text-anchor="start" stroke="#111" stroke-width="0.25" textLength="111.6" lengthAdjust="spacingAndGlyphs" >Binding Energy(eV)</text>
<text x="0" y="0" font-family="Liberation Sans" font-size="12" fill="#111" text-anchor="middle" transform="translate(322 402.4) rotate(-90)">CPS</text>
<text x="370.5" y="320.7" font-family="Liberation Sans" font-size="14" fill="#111" text-anchor="start" stroke="#111" stroke-width="0.25" textLength="14.8" lengthAdjust="spacingAndGlyphs" >(c)</text>
<text x="398.6" y="318.5" font-family="Liberation Sans" font-size="10.6" fill="#111" text-anchor="start" stroke="#111" stroke-width="0.25" textLength="41.8" lengthAdjust="spacingAndGlyphs" >shake-up</text>
<text x="456.6" y="325.5" font-family="Liberation Sans" font-size="10.6" fill="#111" text-anchor="start" stroke="#111" stroke-width="0.25" textLength="37.5" lengthAdjust="spacingAndGlyphs" >Ni 2p1/2</text>
<text x="498.1" y="365.4" font-family="Liberation Sans" font-size="10.6" fill="#111" text-anchor="start" stroke="#111" stroke-width="0.25" textLength="41.6" lengthAdjust="spacingAndGlyphs" >shake-up</text>
<text x="517.2" y="290.2" font-family="Liberation Sans" font-size="10.6" fill="#111" text-anchor="start" stroke="#111" stroke-width="0.25" textLength="73" lengthAdjust="spacingAndGlyphs" >Ni 2p3/2(Ni2O3)</text>
<text x="552.5" y="309" font-family="Liberation Sans" font-size="10.8" fill="#111" text-anchor="start" stroke="#111" stroke-width="0.25" textLength="17.8" lengthAdjust="spacingAndGlyphs" >NiO</text>
<text x="611.6" y="314.1" font-family="Liberation Sans" font-size="10" fill="#111">Ni 2p3(Ni<tspan font-size="6.5" dy="-4">0</tspan><tspan dy="4">)</tspan></text>
<line x1="608.9" y1="309.7" x2="576.5" y2="321.1" stroke="#111" stroke-width="0.9" />
<path d="M575.2 321.6 L580.5 318.2 L581.3 320.6 Z" fill="#111"/>
<line x1="376.6" y1="440.5" x2="400.9" y2="440.5" stroke="#555" stroke-width="0.8" />
<line x1="376.6" y1="452.5" x2="400.9" y2="452.5" stroke="#f39a9a" stroke-width="0.9" />
<text x="404.9" y="444.1" font-family="Liberation Sans" font-size="10.6" fill="#111" text-anchor="start" stroke="#111" stroke-width="0.25" textLength="18.9" lengthAdjust="spacingAndGlyphs" >light</text>
<text x="404.9" y="456.1" font-family="Liberation Sans" font-size="10.6" fill="#111" text-anchor="start" stroke="#111" stroke-width="0.25" textLength="32.5" lengthAdjust="spacingAndGlyphs" >without</text>
<line x1="452.1" y1="299" x2="452.1" y2="495" stroke="#333" stroke-width="0.9" stroke-dasharray="1 2"/>
<line x1="548.6" y1="292.7" x2="548.6" y2="495" stroke="#333" stroke-width="0.9" stroke-dasharray="1 2"/>
<line x1="558.2" y1="307.5" x2="558.2" y2="495" stroke="#333" stroke-width="0.9" stroke-dasharray="1 2"/>
<line x1="570.2" y1="306" x2="570.2" y2="495" stroke="#333" stroke-width="0.9" stroke-dasharray="1 2"/>
<path d="M388.5 345.5 L390.6 342.95 L392.7 343.53 L394.8 339.65 L396.93 341.29 L399.07 338.4 L401.2 340.28 L403.33 336.89 L405.47 337.59 L407.6 334.05 L409.98 335.29 L412.35 332.46 L414.73 333.29 L417.1 330.45 L419.75 335.57 L422.4 335.04 L424.53 338.66 L426.67 337.92 L428.8 343.13 L430.93 341.18 L433.07 345.28 L435.2 343.53 L437.3 345.19 L439.4 341.55 L441.5 343.38 L443.63 339.65 L445.77 339.62 L447.9 335.9 L450.35 335.56 L452.8 329.67 L456.4 339.46 L459.5 346.07 L462.2 353.53 L464.9 355.69 L467 357.55 L469.1 355.66 L471.2 357.07 L474.4 358.72 L477.6 376.46 L479.7 379.99 L481.8 388.46 L483.93 387.31 L486.07 391.29 L488.2 390.07 L490.48 393.98 L492.75 391.93 L495.02 394.97 L497.3 392.72 L499.57 393.94 L501.85 388.45 L504.12 389.17 L506.4 384.13 L508.42 385.2 L510.45 381.36 L512.48 382.53 L514.5 378.2 L517.35 377.04 L520.2 371.55 L523.05 376.12 L525.9 375.11 L528.17 379.78 L530.43 378.03 L532.7 382.51 L534.97 378.26 L537.23 379.81 L539.5 375.35 L541.8 372.44 L544.1 363.71 L547.5 349.23 L550.9 335.18 L552.5 346.56 L554.2 356.72 L556 363.61 L558.6 364.76 L562 371.59 L565.2 361.23 L567.5 341.07 L570.3 307.4 L571.8 339.77 L573 365.27 L575.2 416.3 L577.4 431.68 L580.7 442.25 L583.2 441.52 L585.7 444.9 L588.2 443.23 L590.48 444.85 L592.75 442.34 L595.02 445.11 L597.3 442.2 L599.57 444.11 L601.85 441.24 L604.12 444.32 L606.4 442.3" fill="none" stroke="#e83a3a" stroke-width="0.8" stroke-linejoin="round" />
<path d="M388.5 381.5 L390.6 376.97 L392.7 376.38 L394.8 370.04 L396.93 370.92 L399.05 366.89 L401.18 367.12 L403.3 362.5 L405.43 364.7 L407.55 361.42 L409.68 363.47 L411.8 360.11 L413.93 362.19 L416.05 359.35 L418.18 361.53 L420.3 358.38 L422.95 363.95 L425.6 365.97 L428.07 370.91 L430.53 371.8 L433 378.07 L435.13 373.24 L437.27 373.51 L439.4 369.86 L442.05 368.64 L444.7 361.62 L447.35 358.11 L450 349.61 L453.2 357.66 L456.4 369.76 L458.5 381 L460.6 386.55 L462.73 393.14 L464.85 393.43 L466.98 400.46 L469.1 401.82 L471.23 407.02 L473.37 407.84 L475.5 414.64 L477.6 414.47 L479.7 419.48 L481.8 418.22 L483.9 423.45 L486.03 418.89 L488.17 420.74 L490.3 417.44 L492.43 420.11 L494.57 417.06 L496.7 419.29 L498.8 413.94 L500.9 413.53 L503 407.49 L505.12 407.86 L507.25 400.95 L509.38 400.93 L511.5 395.44 L514.3 390.4 L516.57 385.11 L518.83 384.86 L521.1 379.71 L523.4 386.91 L525.7 388.21 L528 395.71 L530.27 396.91 L532.53 402.72 L534.8 404.78 L537.65 399.8 L540.5 390.75 L542.75 383.95 L545 372.41 L548.6 330.88 L551.4 321.34 L553.5 338.93 L555.2 363.78 L556.4 388.92 L558.6 393.44 L561 399.97 L563 400.74 L565.2 414.4 L567.5 390.91 L569.6 375.72 L571.2 398.31 L573 438.14 L576.3 458.28 L578.5 467.27 L582 467 L584.07 469.6 L586.13 467.45 L588.2 470.34 L590.48 467.06 L592.75 469.03 L595.02 466.55 L597.3 467.61 L599.57 466.54 L601.85 469.33 L604.12 467.36 L606.4 469.1" fill="none" stroke="#222" stroke-width="0.8" stroke-linejoin="round" />
<rect x="56" y="553.3" width="262.3" height="220.3" fill="#e2ffff" stroke="none"/>
<rect x="57" y="554.5" width="46.5" height="42" fill="#e9ffff" stroke="none"/>
<line x1="47.3" y1="768.9" x2="56" y2="768.9" stroke="#111" stroke-width="1.3" />
<line x1="51.6" y1="757.65" x2="56" y2="757.65" stroke="#111" stroke-width="1.3" />
<line x1="47.3" y1="746.4" x2="56" y2="746.4" stroke="#111" stroke-width="1.3" />
<line x1="51.6" y1="735.15" x2="56" y2="735.15" stroke="#111" stroke-width="1.3" />
<line x1="47.3" y1="723.9" x2="56" y2="723.9" stroke="#111" stroke-width="1.3" />
<line x1="51.6" y1="712.65" x2="56" y2="712.65" stroke="#111" stroke-width="1.3" />
<line x1="47.3" y1="701.4" x2="56" y2="701.4" stroke="#111" stroke-width="1.3" />
<line x1="51.6" y1="690.15" x2="56" y2="690.15" stroke="#111" stroke-width="1.3" />
<line x1="47.3" y1="678.9" x2="56" y2="678.9" stroke="#111" stroke-width="1.3" />
<line x1="51.6" y1="667.65" x2="56" y2="667.65" stroke="#111" stroke-width="1.3" />
<line x1="47.3" y1="656.4" x2="56" y2="656.4" stroke="#111" stroke-width="1.3" />
<line x1="51.6" y1="645.15" x2="56" y2="645.15" stroke="#111" stroke-width="1.3" />
<line x1="47.3" y1="633.9" x2="56" y2="633.9" stroke="#111" stroke-width="1.3" />
<line x1="51.6" y1="622.65" x2="56" y2="622.65" stroke="#111" stroke-width="1.3" />
<line x1="47.3" y1="611.4" x2="56" y2="611.4" stroke="#111" stroke-width="1.3" />
<line x1="51.6" y1="600.15" x2="56" y2="600.15" stroke="#111" stroke-width="1.3" />
<line x1="47.3" y1="588.9" x2="56" y2="588.9" stroke="#111" stroke-width="1.3" />
<line x1="51.6" y1="577.65" x2="56" y2="577.65" stroke="#111" stroke-width="1.3" />
<line x1="47.3" y1="566.4" x2="56" y2="566.4" stroke="#111" stroke-width="1.3" />
<line x1="51.6" y1="555.15" x2="56" y2="555.15" stroke="#111" stroke-width="1.3" />
<text x="46.8" y="770.2" font-family="Liberation Serif" font-size="15.5" fill="#222" text-anchor="end" textLength="7.3" lengthAdjust="spacingAndGlyphs" >0</text>
<text x="46.8" y="747.7" font-family="Liberation Serif" font-size="15.5" fill="#222" text-anchor="end" textLength="7.3" lengthAdjust="spacingAndGlyphs" >2</text>
<text x="46.8" y="725.2" font-family="Liberation Serif" font-size="15.5" fill="#222" text-anchor="end" textLength="7.3" lengthAdjust="spacingAndGlyphs" >4</text>
<text x="46.8" y="702.7" font-family="Liberation Serif" font-size="15.5" fill="#222" text-anchor="end" textLength="7.3" lengthAdjust="spacingAndGlyphs" >6</text>
<text x="46.8" y="680.2" font-family="Liberation Serif" font-size="15.5" fill="#222" text-anchor="end" textLength="7.3" lengthAdjust="spacingAndGlyphs" >8</text>
<text x="46.8" y="657.7" font-family="Liberation Serif" font-size="15.5" fill="#222" text-anchor="end" textLength="14.6" lengthAdjust="spacingAndGlyphs" >10</text>
<text x="46.8" y="635.2" font-family="Liberation Serif" font-size="15.5" fill="#222" text-anchor="end" textLength="14.6" lengthAdjust="spacingAndGlyphs" >12</text>
<text x="46.8" y="612.7" font-family="Liberation Serif" font-size="15.5" fill="#222" text-anchor="end" textLength="14.6" lengthAdjust="spacingAndGlyphs" >14</text>
<text x="46.8" y="590.2" font-family="Liberation Serif" font-size="15.5" fill="#222" text-anchor="end" textLength="14.6" lengthAdjust="spacingAndGlyphs" >16</text>
<text x="46.8" y="567.7" font-family="Liberation Serif" font-size="15.5" fill="#222" text-anchor="end" textLength="14.6" lengthAdjust="spacingAndGlyphs" >18</text>
<line x1="318.13" y1="773.5" x2="318.13" y2="776.7" stroke="#111" stroke-width="1.3" />
<line x1="296.3" y1="773.5" x2="296.3" y2="776.7" stroke="#111" stroke-width="1.3" />
<line x1="274.47" y1="773.5" x2="274.47" y2="779.3" stroke="#111" stroke-width="1.3" />
<line x1="252.64" y1="773.5" x2="252.64" y2="776.7" stroke="#111" stroke-width="1.3" />
<line x1="230.81" y1="773.5" x2="230.81" y2="776.7" stroke="#111" stroke-width="1.3" />
<line x1="208.98" y1="773.5" x2="208.98" y2="779.3" stroke="#111" stroke-width="1.3" />
<line x1="187.15" y1="773.5" x2="187.15" y2="776.7" stroke="#111" stroke-width="1.3" />
<line x1="165.32" y1="773.5" x2="165.32" y2="776.7" stroke="#111" stroke-width="1.3" />
<line x1="143.49" y1="773.5" x2="143.49" y2="779.3" stroke="#111" stroke-width="1.3" />
<line x1="121.66" y1="773.5" x2="121.66" y2="776.7" stroke="#111" stroke-width="1.3" />
<line x1="99.83" y1="773.5" x2="99.83" y2="776.7" stroke="#111" stroke-width="1.3" />
<line x1="78" y1="773.5" x2="78" y2="779.3" stroke="#111" stroke-width="1.3" />
<line x1="56.17" y1="773.5" x2="56.17" y2="776.7" stroke="#111" stroke-width="1.3" />
<text x="78" y="792.6" font-family="Liberation Serif" font-size="13.6" fill="#222" text-anchor="middle" textLength="23.5" lengthAdjust="spacingAndGlyphs" >537</text>
<text x="143.49" y="792.6" font-family="Liberation Serif" font-size="13.6" fill="#222" text-anchor="middle" textLength="23.5" lengthAdjust="spacingAndGlyphs" >534</text>
<text x="208.98" y="792.6" font-family="Liberation Serif" font-size="13.6" fill="#222" text-anchor="middle" textLength="23.5" lengthAdjust="spacingAndGlyphs" >531</text>
<text x="274.47" y="792.6" font-family="Liberation Serif" font-size="13.6" fill="#222" text-anchor="middle" textLength="23.5" lengthAdjust="spacingAndGlyphs" >528</text>
<text x="119.2" y="808.2" font-family="Liberation Serif" font-size="14.5" fill="#222" text-anchor="start" textLength="134" lengthAdjust="spacingAndGlyphs" stroke="#222" stroke-width="0.12">Binding Energy (eV)</text>
<text x="0" y="0" font-family="Liberation Serif" font-size="14" fill="#222" text-anchor="middle" transform="translate(24.5 663) rotate(-90) scale(1 1.1)" textLength="22.5" lengthAdjust="spacingAndGlyphs">CPS</text>
<text x="55.7" y="552.5" font-family="Liberation Serif" font-size="14.5" fill="#222" textLength="26" lengthAdjust="spacingAndGlyphs">x 10</text>
<text x="84.2" y="545.6" font-family="Liberation Serif" font-size="14" fill="#222">2</text>
<text x="71" y="592.3" font-family="Liberation Sans" font-size="15" fill="#111" text-anchor="start" textLength="17.4" lengthAdjust="spacingAndGlyphs" stroke="#111" stroke-width="0.35">(d)</text>
<path d="M56 768.6 L318 768.6" fill="none" stroke="#e05050" stroke-width="2.0" stroke-linejoin="round" />
<path d="M117.3 767.8 L125 767 L137.4 764.9 L143 760.5 L148.9 753.4 L153 745 L157.6 734.7 L162 727 L167.6 721.7 L171 722 L174.8 724.6 L179 730 L183.5 737.6 L189 746 L195 754.8 L200 759.5 L206.5 763.5 L213 766.3 L220.9 767.8 L243.9 768.6" fill="none" stroke="#2ec4c8" stroke-width="1.6" stroke-linejoin="round" />
<path d="M131.8 769 L145.5 766 L151 762.5 L156 757 L159.5 750 L162 741.8 L164.5 730 L166.7 717.6 L169.5 700 L172.7 681.2 L176 657 L179.4 635.8 L182 622 L184.8 613 L187 607 L189.4 604.8 L191.6 605.8 L193.9 610 L197 620 L200 632.7 L203 647 L206 663 L209 680 L212.1 696.4 L214.5 711 L216.7 723.6 L219.5 736 L222.7 744.8 L226.5 752.5 L230.3 758.5 L234.5 763 L239.4 766 L245.5 768.5" fill="none" stroke="#b42ac8" stroke-width="1.6" stroke-linejoin="round" />
<path d="M190 768.8 L201.8 764.8 L211.7 755 L219.5 741.2 L225.5 729.4 L231.4 719.5 L237.3 717.6 L241.2 719.5 L247.1 731.4 L255 749.1 L262.9 762.9 L272.7 768.8" fill="none" stroke="#d42020" stroke-width="1.6" stroke-linejoin="round" />
<path d="M117 768.2 L128.8 763.5 L137.4 752 L146 737 L153.3 716.5 L157.6 700 L161.9 681 L164.8 678.2 L169.7 648.6 L175.6 623 L180.5 595.5 L184.5 582 L188.4 582.5 L191.4 585 L192.3 587.6 L197.3 607.3 L203.2 638.8 L209 670.3 L212.5 690 L215.6 707.7 L221.5 715.6 L234.3 713.2 L242.2 719.5 L247.1 733.3 L255 749.1 L262.9 762.9 L270.8 767.8 L278.6 768.8" fill="none" stroke="#7a5418" stroke-width="1.6" stroke-linejoin="round" />
<path d="M56 769 L58.2 771.8 L60.9 770 L64.5 769 L72 769.5 L79.1 771.8 L84.5 769.5 L88.2 772.7 L91.8 772.4 L96.9 764.5 L99.1 766.4 L101.8 770 L108.2 770 L111.8 767.3 L115.5 766.4 L118.2 768.2 L120.9 765.1 L124.5 763.6 L127.3 760 L130 760.9 L133.6 756.4 L137.3 749.1 L140 747.3 L142.7 741.8 L146 736 L149 728 L153.3 714.5 L157.6 697.3 L159 692 L161.9 680 L164.8 674 L167 662 L169.7 648.6 L172.5 636 L175.6 623 L178 609 L180.5 595.5 L183 586 L184.5 581.7 L186 581 L188.4 582 L191.4 584.6 L194.3 592.5 L197.3 595 L198.8 611.2 L203.2 629 L208.1 648.6 L212 670.3 L214.5 690 L216 700 L219.5 711.7 L223 722 L224.5 729.4 L229.4 721.5 L233.3 717.6 L239.2 718.6 L242.2 721.5 L249.1 739.2 L257 755 L264.8 765.8 L270 768.5 L274.7 770.5 L278 768 L281 771.5 L285 769 L289 772 L293 768.5 L297 771.8 L301 769 L305 771.5 L309 768.7 L313 771 L318 769.5" fill="none" stroke="#c81e1e" stroke-width="2.0" stroke-linejoin="round" />
<text x="0" y="0" font-family="Liberation Serif" font-size="13.5" fill="#c02020" textLength="29.1" lengthAdjust="spacingAndGlyphs" transform="translate(221.8 708.6)">O 1s</text>
<text x="0" y="0" font-family="Liberation Serif" font-size="13.5" fill="#30b8c0" textLength="27.4" lengthAdjust="spacingAndGlyphs" transform="translate(156.1 713)">O 1s</text>
<clipPath id="clipd"><rect x="56" y="554" width="262" height="219"/></clipPath>
<g clip-path="url(#clipd)"><text x="0" y="0" font-family="Liberation Serif" font-size="12.9" fill="#222" transform="translate(190 575.4) rotate(-90) scale(1 1.28)">O 1s</text></g>
<rect x="56" y="553.3" width="262.3" height="220.3" fill="none" stroke="#111" stroke-width="1.5"/>
<rect x="372.5" y="555.5" width="263" height="218.7" fill="#e2ffff" stroke="none"/>
<rect x="373.5" y="556.3" width="40" height="41.5" fill="#e9ffff" stroke="none"/>
<line x1="364.3" y1="771.8" x2="372.5" y2="771.8" stroke="#111" stroke-width="1.45" />
<line x1="368.3" y1="766.58" x2="372.5" y2="766.58" stroke="#111" stroke-width="1.45" />
<line x1="368.3" y1="761.36" x2="372.5" y2="761.36" stroke="#111" stroke-width="1.45" />
<line x1="368.3" y1="756.14" x2="372.5" y2="756.14" stroke="#111" stroke-width="1.45" />
<line x1="368.3" y1="750.92" x2="372.5" y2="750.92" stroke="#111" stroke-width="1.45" />
<line x1="364.3" y1="745.7" x2="372.5" y2="745.7" stroke="#111" stroke-width="1.45" />
<line x1="368.3" y1="740.48" x2="372.5" y2="740.48" stroke="#111" stroke-width="1.45" />
<line x1="368.3" y1="735.26" x2="372.5" y2="735.26" stroke="#111" stroke-width="1.45" />
<line x1="368.3" y1="730.04" x2="372.5" y2="730.04" stroke="#111" stroke-width="1.45" />
<line x1="368.3" y1="724.82" x2="372.5" y2="724.82" stroke="#111" stroke-width="1.45" />
<line x1="364.3" y1="719.6" x2="372.5" y2="719.6" stroke="#111" stroke-width="1.45" />
<line x1="368.3" y1="714.38" x2="372.5" y2="714.38" stroke="#111" stroke-width="1.45" />
<line x1="368.3" y1="709.16" x2="372.5" y2="709.16" stroke="#111" stroke-width="1.45" />
<line x1="368.3" y1="703.94" x2="372.5" y2="703.94" stroke="#111" stroke-width="1.45" />
<line x1="368.3" y1="698.72" x2="372.5" y2="698.72" stroke="#111" stroke-width="1.45" />
<line x1="364.3" y1="693.5" x2="372.5" y2="693.5" stroke="#111" stroke-width="1.45" />
<line x1="368.3" y1="688.28" x2="372.5" y2="688.28" stroke="#111" stroke-width="1.45" />
<line x1="368.3" y1="683.06" x2="372.5" y2="683.06" stroke="#111" stroke-width="1.45" />
<line x1="368.3" y1="677.84" x2="372.5" y2="677.84" stroke="#111" stroke-width="1.45" />
<line x1="368.3" y1="672.62" x2="372.5" y2="672.62" stroke="#111" stroke-width="1.45" />
<line x1="364.3" y1="667.4" x2="372.5" y2="667.4" stroke="#111" stroke-width="1.45" />
<line x1="368.3" y1="662.18" x2="372.5" y2="662.18" stroke="#111" stroke-width="1.45" />
<line x1="368.3" y1="656.96" x2="372.5" y2="656.96" stroke="#111" stroke-width="1.45" />
<line x1="368.3" y1="651.74" x2="372.5" y2="651.74" stroke="#111" stroke-width="1.45" />
<line x1="368.3" y1="646.52" x2="372.5" y2="646.52" stroke="#111" stroke-width="1.45" />
<line x1="364.3" y1="641.3" x2="372.5" y2="641.3" stroke="#111" stroke-width="1.45" />
<line x1="368.3" y1="636.08" x2="372.5" y2="636.08" stroke="#111" stroke-width="1.45" />
<line x1="368.3" y1="630.86" x2="372.5" y2="630.86" stroke="#111" stroke-width="1.45" />
<line x1="368.3" y1="625.64" x2="372.5" y2="625.64" stroke="#111" stroke-width="1.45" />
<line x1="368.3" y1="620.42" x2="372.5" y2="620.42" stroke="#111" stroke-width="1.45" />
<line x1="364.3" y1="615.2" x2="372.5" y2="615.2" stroke="#111" stroke-width="1.45" />
<line x1="368.3" y1="609.98" x2="372.5" y2="609.98" stroke="#111" stroke-width="1.45" />
<line x1="368.3" y1="604.76" x2="372.5" y2="604.76" stroke="#111" stroke-width="1.45" />
<line x1="368.3" y1="599.54" x2="372.5" y2="599.54" stroke="#111" stroke-width="1.45" />
<line x1="368.3" y1="594.32" x2="372.5" y2="594.32" stroke="#111" stroke-width="1.45" />
<line x1="364.3" y1="589.1" x2="372.5" y2="589.1" stroke="#111" stroke-width="1.45" />
<line x1="368.3" y1="583.88" x2="372.5" y2="583.88" stroke="#111" stroke-width="1.45" />
<line x1="368.3" y1="578.66" x2="372.5" y2="578.66" stroke="#111" stroke-width="1.45" />
<line x1="368.3" y1="573.44" x2="372.5" y2="573.44" stroke="#111" stroke-width="1.45" />
<line x1="368.3" y1="568.22" x2="372.5" y2="568.22" stroke="#111" stroke-width="1.45" />
<line x1="364.3" y1="563" x2="372.5" y2="563" stroke="#111" stroke-width="1.45" />
<line x1="368.3" y1="557.78" x2="372.5" y2="557.78" stroke="#111" stroke-width="1.45" />
<text x="363.6" y="773.6" font-family="Liberation Serif" font-size="15" fill="#222" text-anchor="end" textLength="8" lengthAdjust="spacingAndGlyphs" >0</text>
<text x="363.6" y="747.5" font-family="Liberation Serif" font-size="15" fill="#222" text-anchor="end" textLength="8" lengthAdjust="spacingAndGlyphs" >5</text>
<text x="363.6" y="721.4" font-family="Liberation Serif" font-size="15" fill="#222" text-anchor="end" textLength="16.3" lengthAdjust="spacingAndGlyphs" >10</text>
<text x="363.6" y="695.3" font-family="Liberation Serif" font-size="15" fill="#222" text-anchor="end" textLength="16.3" lengthAdjust="spacingAndGlyphs" >15</text>
<text x="363.6" y="669.2" font-family="Liberation Serif" font-size="15" fill="#222" text-anchor="end" textLength="16.3" lengthAdjust="spacingAndGlyphs" >20</text>
<text x="363.6" y="643.1" font-family="Liberation Serif" font-size="15" fill="#222" text-anchor="end" textLength="16.3" lengthAdjust="spacingAndGlyphs" >25</text>
<text x="363.6" y="617" font-family="Liberation Serif" font-size="15" fill="#222" text-anchor="end" textLength="16.3" lengthAdjust="spacingAndGlyphs" >30</text>
<text x="363.6" y="590.9" font-family="Liberation Serif" font-size="15" fill="#222" text-anchor="end" textLength="16.3" lengthAdjust="spacingAndGlyphs" >35</text>
<text x="363.6" y="564.8" font-family="Liberation Serif" font-size="15" fill="#222" text-anchor="end" textLength="16.3" lengthAdjust="spacingAndGlyphs" >40</text>
<line x1="633.2" y1="774.2" x2="633.2" y2="777.4" stroke="#111" stroke-width="1.3" />
<line x1="611.5" y1="774.2" x2="611.5" y2="777.4" stroke="#111" stroke-width="1.3" />
<line x1="589.8" y1="774.2" x2="589.8" y2="780" stroke="#111" stroke-width="1.3" />
<line x1="568.1" y1="774.2" x2="568.1" y2="777.4" stroke="#111" stroke-width="1.3" />
<line x1="546.4" y1="774.2" x2="546.4" y2="777.4" stroke="#111" stroke-width="1.3" />
<line x1="524.7" y1="774.2" x2="524.7" y2="780" stroke="#111" stroke-width="1.3" />
<line x1="503" y1="774.2" x2="503" y2="777.4" stroke="#111" stroke-width="1.3" />
<line x1="481.3" y1="774.2" x2="481.3" y2="777.4" stroke="#111" stroke-width="1.3" />
<line x1="459.6" y1="774.2" x2="459.6" y2="780" stroke="#111" stroke-width="1.3" />
<line x1="437.9" y1="774.2" x2="437.9" y2="777.4" stroke="#111" stroke-width="1.3" />
<line x1="416.2" y1="774.2" x2="416.2" y2="777.4" stroke="#111" stroke-width="1.3" />
<line x1="394.5" y1="774.2" x2="394.5" y2="780" stroke="#111" stroke-width="1.3" />
<line x1="372.8" y1="774.2" x2="372.8" y2="777.4" stroke="#111" stroke-width="1.3" />
<text x="394.5" y="793.6" font-family="Liberation Serif" font-size="13.6" fill="#222" text-anchor="middle" textLength="23.5" lengthAdjust="spacingAndGlyphs" >537</text>
<text x="459.6" y="793.6" font-family="Liberation Serif" font-size="13.6" fill="#222" text-anchor="middle" textLength="23.5" lengthAdjust="spacingAndGlyphs" >534</text>
<text x="524.7" y="793.6" font-family="Liberation Serif" font-size="13.6" fill="#222" text-anchor="middle" textLength="23.5" lengthAdjust="spacingAndGlyphs" >531</text>
<text x="589.8" y="793.6" font-family="Liberation Serif" font-size="13.6" fill="#222" text-anchor="middle" textLength="23.5" lengthAdjust="spacingAndGlyphs" >528</text>
<text x="436" y="808.6" font-family="Liberation Serif" font-size="14.5" fill="#222" text-anchor="start" textLength="135.3" lengthAdjust="spacingAndGlyphs" stroke="#222" stroke-width="0.12">Binding Energy (eV)</text>
<text x="0" y="0" font-family="Liberation Serif" font-size="14" fill="#222" text-anchor="middle" transform="translate(340.7 664.6) rotate(-90) scale(1 1.1)" textLength="23.3" lengthAdjust="spacingAndGlyphs">CPS</text>
<text x="372.3" y="554" font-family="Liberation Serif" font-size="14.5" fill="#222" textLength="26" lengthAdjust="spacingAndGlyphs">x 10</text>
<text x="400" y="550.2" font-family="Liberation Serif" font-size="13.5" fill="#222">2</text>
<text x="384.7" y="594" font-family="Liberation Sans" font-size="15" fill="#111" text-anchor="start" textLength="17.6" lengthAdjust="spacingAndGlyphs" stroke="#111" stroke-width="0.35">(e)</text>
<rect x="531.7" y="544.4" width="104" height="10.8" fill="#ececec" stroke="#bbb" stroke-width="0.6"/>
<text x="535.9" y="552.8" font-family="Liberation Sans" font-size="6" font-weight="bold" fill="#222" textLength="96" lengthAdjust="spacingAndGlyphs">529.7500, 455.0 [0.0000, 0.0]</text>
<path d="M372.5 742.6 L440 742.6 L465.6 743 L499 744.3 L524.6 746.9 L558 747.5 L635.5 747.8" fill="none" stroke="#5ab0e0" stroke-width="1.6" stroke-linejoin="round" />
<path d="M465.6 775 L472 768 L479.3 757.7 L483 745 L487.2 728.2 L490 708 L493.1 688.9 L496 676 L499 667.2 L502 660 L504.9 655.4 L507.9 654.4 L510.8 659.3 L514.8 671.2 L519.7 694.8 L524.6 724.3 L527.5 740 L530.5 753.8 L536.4 767.6 L542.3 773.5" fill="none" stroke="#555" stroke-width="0.9" stroke-linejoin="round" />
<path d="M440 771.5 L452 763 L465.6 749.8 L475.4 734.1 L485.2 724.3 L493.1 719.4 L499 720.3 L506.9 727.2 L514.8 738 L522.6 749.8 L532.5 761.6 L542.3 770.5 L552.1 774.2" fill="none" stroke="#555" stroke-width="0.9" stroke-linejoin="round" />
<path d="M524.6 774 L530 769 L538.4 761.6 L544 757 L550.2 755.3 L557.3 755.3 L563.6 760.6 L572.1 769.1 L580.6 773.3 L590 774.2" fill="none" stroke="#555" stroke-width="0.9" stroke-linejoin="round" />
<path d="M437 771.8 L452 765 L462 752 L468 738 L474 725 L478.4 712 L483.5 680.3 L489.5 645.9 L495.5 618.4 L499.8 603 L503 599.5 L505 598.7 L507 599.3 L509.3 601.3 L514.5 620.2 L518.7 644.2 L523.9 680.3 L527 700 L530.5 722.3 L536.4 745.9 L544.3 761.6 L552.1 771.5 L560 774" fill="none" stroke="#555" stroke-width="0.9" stroke-linejoin="round" />
<path d="M372.5 773 L420 772 L437.5 770.5 L447.7 766.5 L455.9 758.5 L462 750 L467.2 740 L472.3 730 L476.4 716 L480.1 700 L484.4 673.4 L488.7 649.4 L493 625.3 L497.3 604.7 L500.7 596.1 L505.5 585.5 L510.2 592.5 L514.5 607 L517.9 625.3 L522.2 649.4 L525.6 671.7 L529.7 699.1 L532.9 722.4 L538.2 737.3 L542.4 746 L549.9 744.8 L558.3 747 L563.6 754 L572.1 762.7 L584.9 769.1 L595.5 771.6 L610 772.4 L635.5 772.3" fill="none" stroke="#666" stroke-width="0.9" stroke-linejoin="round" />
<path d="M372.5 772.8 L380 773.5 L390.5 773.5 L395 772.2 L400.7 771.8 L404 770.5 L407 772 L410.9 770.8 L414 771.5 L418 770.2 L422 772 L427.3 771.8 L432 770.5 L437.5 769.8 L442 768.5 L447.7 765.7 L452 762.5 L455.9 757.5 L459 754 L462 749.3 L465 744 L467.2 739.1 L470 734 L472.3 728.9 L476.4 714.5 L479.4 702.3 L482.1 690 L484.4 673.4 L488.7 649.4 L493 625.3 L497.3 604.7 L500.7 596.1 L505.5 584.1 L510.2 591.8 L514.5 606.4 L517.9 625.3 L522.2 649.4 L525.6 671.7 L526.5 680 L529.7 699.1 L532.9 722.4 L535 728 L538.2 737.3 L542.4 746.8 L549.9 745.3 L558.3 747.5 L563.6 755.3 L570 763.8 L575 768 L580.6 771.2 L587 772.8 L593.3 773.3 L600 772.5 L605 773.4 L610.3 772.9 L615 772 L620 772.8 L624 771 L627.3 771.6 L631 771.2 L635.5 772.3" fill="none" stroke="#c81e1e" stroke-width="2.0" stroke-linejoin="round" />
<clipPath id="clipe"><rect x="372.5" y="556.3" width="263" height="218"/></clipPath>
<g clip-path="url(#clipe)"><text x="0" y="0" font-family="Liberation Serif" font-size="13.4" fill="#222" transform="translate(511.6 577.8) rotate(-90) scale(1 1.22)">O 1s</text></g>
<rect x="372.5" y="555.5" width="263" height="218.7" fill="none" stroke="#111" stroke-width="1.5"/>
</svg>
</body></html>
